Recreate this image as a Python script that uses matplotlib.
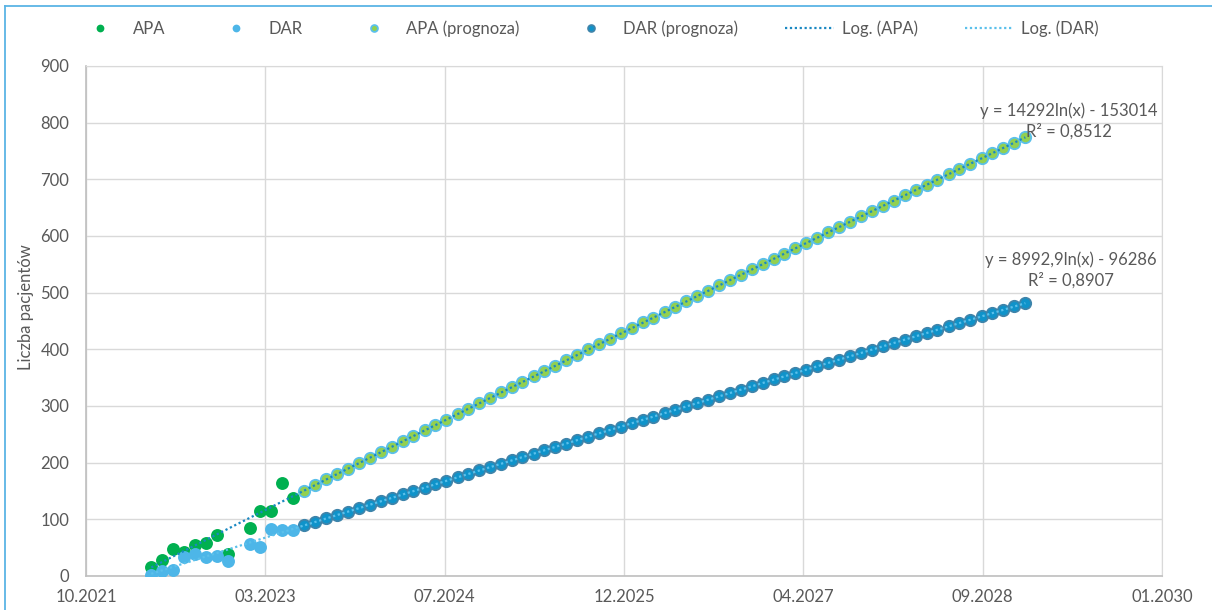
import numpy as np
import pandas as pd
import matplotlib
matplotlib.use("Agg")
import matplotlib.pyplot as plt
import matplotlib.dates as mdates
from matplotlib.lines import Line2D

plt.rcParams['font.family'] = ['Lato', 'DejaVu Sans']

# monthly patient counts (Jan 2023 not reported)
actual_months = ['2022-05', '2022-06', '2022-07', '2022-08', '2022-09', '2022-10',
                 '2022-11', '2022-12', '2023-02', '2023-03', '2023-04', '2023-05', '2023-06']
apa = [16, 28, 47, 42, 55, 58, 73, 38, 84, 114, 114, 165, 137]
dar = [1, 9, 11, 33, 39, 34, 36, 26, 57, 52, 83, 82, 82]

# forecast, Jul 2023 - Jan 2029
forecast_start = '2023-07'
forecast_end = '2029-01'
apa_forecast = [150.7, 160.5, 170.4, 179.8, 189.6, 199.1,
                208.9, 218.7, 227.8, 237.6, 247.0, 256.8, 266.2, 276.0, 285.7, 295.1, 304.8, 314.2,
                323.9, 333.6, 342.4, 352.1, 361.4, 371.1, 380.5, 390.1, 399.8, 409.1, 418.8, 428.1,
                437.7, 447.4, 456.0, 465.7, 474.9, 484.5, 493.8, 503.4, 513.0, 522.3, 531.8, 541.1,
                550.6, 560.2, 568.8, 578.3, 587.6, 597.1, 606.3, 615.8, 625.3, 634.5, 644.0, 653.2,
                662.6, 672.1, 681.0, 690.4, 699.6, 709.0, 718.2, 727.6, 737.1, 746.2, 755.6, 764.7,
                774.1]
dar_forecast = [89.2, 95.4, 101.6, 107.6, 113.7, 119.7,
                125.9, 132.0, 137.8, 143.9, 149.8, 156.0, 161.9, 168.0, 174.2, 180.1, 186.2, 192.1,
                198.2, 204.3, 209.8, 215.9, 221.8, 227.9, 233.8, 239.9, 246.0, 251.8, 257.9, 263.8,
                269.8, 275.9, 281.4, 287.4, 293.3, 299.3, 305.1, 311.2, 317.2, 323.0, 329.0, 334.9,
                340.9, 346.9, 352.3, 358.3, 364.1, 370.1, 375.9, 381.9, 387.9, 393.7, 399.6, 405.4,
                411.4, 417.3, 422.9, 428.9, 434.6, 440.6, 446.3, 452.2, 458.2, 463.9, 469.8, 475.6,
                481.5]

# log trendlines, x is the spreadsheet date serial
apa_coef = (14292, -153014)
dar_coef = (8992.9, -96286)
apa_label = 'y = 14292ln(x) - 153014\nR² = 0,8512'
dar_label = 'y = 8992,9ln(x) - 96286\nR² = 0,8907'

SERIAL0 = 25569  # serial of 1970-01-01

t_actual = mdates.date2num(pd.to_datetime(actual_months))
t_fc = mdates.date2num(pd.date_range(forecast_start, forecast_end, freq='MS'))

t_trend = np.linspace(t_actual[0], t_fc[-1], 400)
apa_trend = apa_coef[0] * np.log(t_trend + SERIAL0) + apa_coef[1]
dar_trend = dar_coef[0] * np.log(t_trend + SERIAL0) + dar_coef[1]

fig = plt.figure(figsize=(12.12, 6.10), dpi=100)
ax = fig.add_axes([86/1212, 1 - 576/610, 1076/1212, 510/610])

grey = '#595959'
fs = 12
ax.plot(t_fc, apa_forecast, 'o', ms=8.2, mfc='#92d050', mec='#5bc0eb', mew=1.3, zorder=3,
        label='APA (prognoza)')
ax.plot(t_fc, dar_forecast, 'o', ms=8.2, mfc='#0f93ca', mec='#3f84aa', mew=1.3, zorder=3,
        label='DAR (prognoza)')
ax.plot(t_actual, apa, 'o', ms=9.3, color='#00b050', mew=0, zorder=4, label='APA')
ax.plot(t_actual, dar, 'o', ms=9.3, color='#4db6e8', mew=0, zorder=5, label='DAR')
ax.plot(t_trend, apa_trend, color='#1a88c2', lw=1.6, ls=(0, (1, 1.2)), zorder=6, label='Log. (APA)')
ax.plot(t_trend, dar_trend, color='#5bc0eb', lw=1.6, ls=(0, (1, 1.2)), zorder=6, label='Log. (DAR)')

ax.set_xlim(44500 - SERIAL0, 47500 - SERIAL0)
ax.set_xticks(np.arange(44500, 47501, 500) - SERIAL0)
ax.xaxis.set_major_formatter(mdates.DateFormatter('%m.%Y'))
ax.set_ylim(0, 900)
ax.set_yticks(np.arange(0, 901, 100))
ax.tick_params(axis='both', length=0, labelsize=fs, labelcolor=grey)
ax.tick_params(axis='y', pad=12)
ax.tick_params(axis='x', pad=9)
ax.grid(color='#d9d9d9', lw=1)
ax.set_axisbelow(True)
for side in ['top', 'right']:
    ax.spines[side].set_color('#d9d9d9')
for side in ['left', 'bottom']:
    ax.spines[side].set_color('#bfbfbf')
    ax.spines[side].set_linewidth(1.2)

fig.text(26/1212, 1 - 307/610, 'Liczba pacjentów', rotation=90, ha='center', va='center',
         fontsize=fs, color=grey)

# trendline equations
ax.text(1069/1212, 1 - 121/610, apa_label, transform=fig.transFigure, ha='center', va='center',
        fontsize=fs, color=grey, linespacing=1.35)
ax.text(1071/1212, 1 - 270/610, dar_label, transform=fig.transFigure, ha='center', va='center',
        fontsize=fs, color=grey, linespacing=1.35)

handles, labels = ax.get_legend_handles_labels()
order = ['APA', 'DAR', 'APA (prognoza)', 'DAR (prognoza)', 'Log. (APA)', 'Log. (DAR)']
hmap = dict(zip(labels, handles))
fig.legend([hmap[k] for k in order], order, loc='center left', bbox_to_anchor=(76/1212, 1 - 29/610),
           ncol=6, frameon=False, fontsize=fs, labelcolor=grey, markerscale=0.6,
           handlelength=2.93, handletextpad=0.48, columnspacing=2.8, borderpad=0, borderaxespad=0,
           numpoints=1)

# chart area border
fig.add_artist(Line2D([5/1212, 1], [1 - 6/610, 1 - 6/610], color='#5bb4e5', lw=1.3))
fig.add_artist(Line2D([5/1212, 5/1212], [0, 1 - 6/610], color='#5bb4e5', lw=1.3))

fig.savefig('out.png', dpi=100)
